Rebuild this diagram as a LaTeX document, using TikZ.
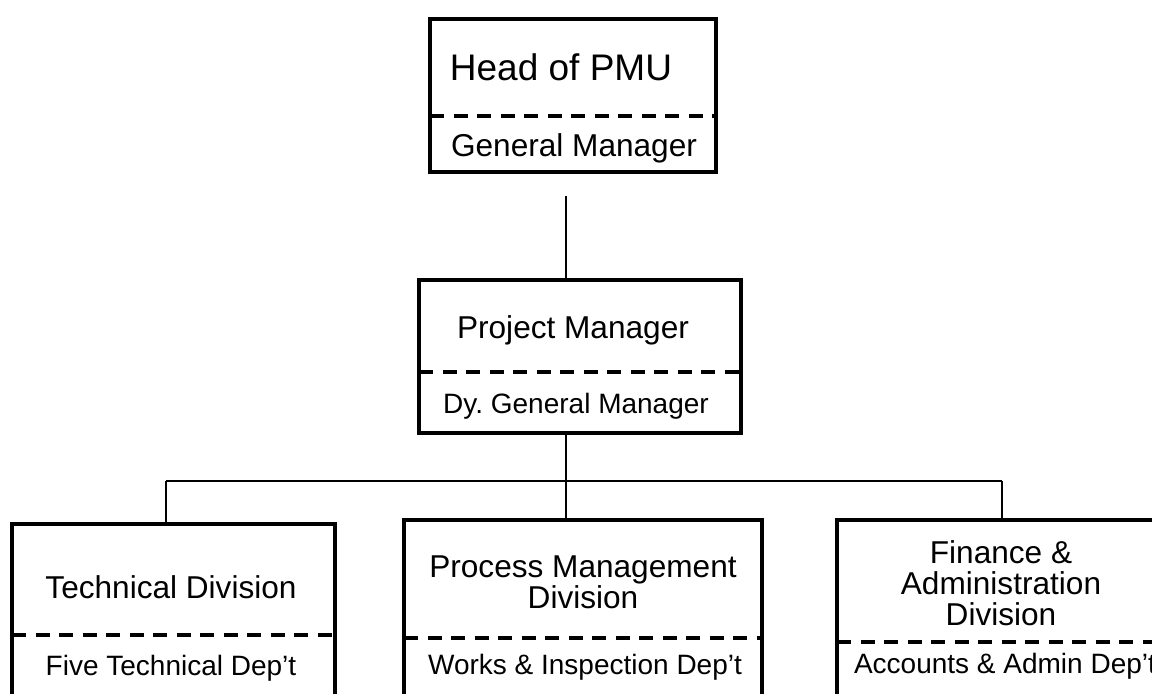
\documentclass[tikz,border=0pt]{standalone}
\usepackage{fontspec}
\setmainfont{Liberation Sans}
\frenchspacing

\begin{document}
\begin{tikzpicture}[x=0.5pt,y=-0.5pt,
    box/.style={draw,line width=2.25pt,anchor=north west,inner sep=0pt,outer sep=0pt},
    divider/.style={line width=2pt,dash pattern=on 7pt off 4.75pt},
    link/.style={line width=0.75pt},
    big/.style={font=\fontsize{18.5}{22}\selectfont,anchor=base},
    title/.style={font=\fontsize{15.8}{15.5}\selectfont,align=center,anchor=base},
    sub/.style={font=\fontsize{14}{16}\selectfont,anchor=base}]
                \useasboundingbox (0,0) rectangle (1152,693);
                \clip (0,0) rectangle (1152,693);

                \node[box,minimum width=143pt,minimum height=76.5pt] (head) at (430,19) {};
                \node[box,minimum width=161pt,minimum height=76.5pt] (pm) at (419,280) {};
                \node[box,minimum width=161.5pt,minimum height=100pt] (tech) at (12,524) {};
                \node[box,minimum width=179pt,minimum height=102pt] (proc) at (404,520) {};
                \node[box,minimum width=165pt,minimum height=102pt] (fin) at (837,520) {};

                \draw[divider] (head.north west) ++(0,97) -- ++(286,0);
                \draw[divider] (pm.north west) ++(0,92) -- ++(322,0);
                \draw[divider] (tech.north west) ++(0,111) -- ++(323,0);
                \draw[divider] (proc.north west) ++(0,118) -- ++(358,0);
                \draw[divider] (fin.north west) ++(0,122) -- ++(330,0);

                \node[big] (headname) at (561,80) {Head of PMU};
                \node[title] (headrole) at (574,156) {General Manager};
                \node[title] (pmname) at (573,338) {Project Manager};
                \node[sub] (pmrole) at (576,413) {Dy. General Manager};
                \node[title] (techname) at (171,598) {Technical Division};
                \node[sub] (techdept) at (171,675) {Five Technical Dep’t};
                \node[title] (procname) at (583,608) {Process Management\\Division};
                \node[sub] (procdept) at (585,674) {Works \& Inspection Dep’t};
                \node[title] (finname) at (1001,625) {Finance \&\\Administration\\Division};
                \node[sub] (findept) at (1005,673) {Accounts \& Admin Dep’t};

                \coordinate (stub) at (566,196);
                \coordinate (fork) at (566,481);
                \coordinate (forkL) at (166,481);
                \coordinate (forkR) at (1002,481);
                \draw[link] (stub) -- (stub |- pm.north);
                \draw[link] (pm.south -| fork) -- (fork);
                \draw[link] (forkL) -- (forkR);
                \draw[link] (forkL) -- (forkL |- tech.north);
                \draw[link] (fork) -- (fork |- proc.north);
                \draw[link] (forkR) -- (forkR |- fin.north);
            \end{tikzpicture}
\end{document}
